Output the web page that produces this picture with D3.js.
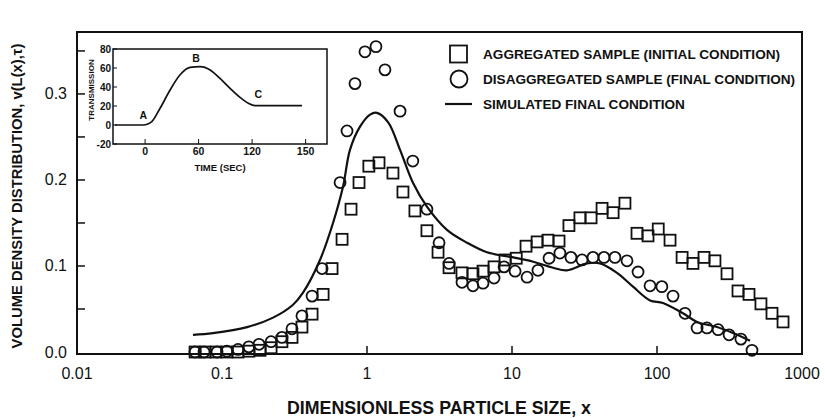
<!DOCTYPE html>
<html>
<head>
<meta charset="utf-8">
<script src="https://cdn.jsdelivr.net/npm/d3@7"></script>
<style>
body { margin: 0; background: #fff; }
text { font-family: "Liberation Sans", Arial, sans-serif; fill: #111; }
</style>
</head>
<body>
<svg id="chart" width="825" height="418"></svg>
<script>
// aggregated sample (initial condition) - squares
var aggX = [0.0652,0.0763,0.0909,0.108,0.129,0.153,0.183,0.218,0.259,0.304,0.356,0.418,0.498,0.574,0.673,0.776,0.881,1.03,1.21,1.51,1.77,2.14,2.59,3.09,3.68,4.52,5.38,6.31,7.52,8.95,10.7,12.5,14.9,17.7,21.1,24.7,29.4,35.1,41.8,49.8,60.1,72.8,86.7,102,123,149,177,211,251,304,362,431,521,621,740];
var aggY = [0,0,0,0,0,0.001,0.002,0.005,0.012,0.017,0.029,0.044,0.067,0.097,0.131,0.166,0.197,0.216,0.220,0.208,0.186,0.164,0.141,0.116,0.098,0.092,0.091,0.094,0.099,0.107,0.109,0.123,0.128,0.130,0.129,0.147,0.156,0.156,0.167,0.162,0.173,0.138,0.135,0.143,0.130,0.110,0.103,0.110,0.106,0.091,0.071,0.067,0.056,0.045,0.035];

// disaggregated sample (final condition) - circles
var disX = [0.0652,0.0752,0.0924,0.108,0.129,0.153,0.180,0.218,0.259,0.304,0.356,0.418,0.490,0.652,0.728,0.826,0.968,1.153,1.33,1.69,2.07,2.59,3.14,3.68,4.52,5.38,6.31,7.52,8.81,10.5,12.7,15.1,18.0,21.4,25.5,30.4,36.2,43.1,51.3,62.1,74.0,89.5,108,129,156,189,221,264,314,379,452];
var disY = [0,0,0,0.001,0.003,0.006,0.009,0.012,0.017,0.027,0.042,0.065,0.097,0.197,0.257,0.312,0.349,0.355,0.328,0.280,0.222,0.166,0.127,0.103,0.081,0.077,0.080,0.086,0.099,0.094,0.087,0.095,0.109,0.115,0.110,0.107,0.110,0.110,0.110,0.106,0.093,0.077,0.076,0.065,0.045,0.028,0.028,0.026,0.020,0.015,0.002];

// simulated final condition - line
var simX = [0.0631,0.0866,0.149,0.225,0.309,0.362,0.474,0.583,0.683,0.763,0.895,1.05,1.17,1.40,1.69,2.07,2.59,3.56,4.90,6.72,10.2,14.0,19.2,23.9,32.9,40.4,53.0,68.3,89.5,110,151,189,259,334,438];
var simY = [0.020,0.022,0.029,0.040,0.055,0.069,0.107,0.150,0.192,0.235,0.262,0.276,0.278,0.267,0.235,0.197,0.169,0.142,0.127,0.116,0.110,0.105,0.098,0.095,0.103,0.103,0.092,0.076,0.060,0.057,0.045,0.035,0.029,0.022,0.013];

var xTicks = [0.01, 0.1, 1, 10, 100, 1000];
var xTickLabels = ["0.01", "0.1", "1", "10", "100", "1000"];
var yTicks = [0, 0.1, 0.2, 0.3];
var yTickLabels = ["0.0", "0.1", "0.2", "0.3"];
var yMinorTicks = [0.05, 0.15, 0.25, 0.35];

var legendLabels = ["AGGREGATED SAMPLE (INITIAL CONDITION)", "DISAGGREGATED SAMPLE (FINAL CONDITION)", "SIMULATED FINAL CONDITION"];

// inset: transmission vs time
var insetTime = [-34, -2, 3, 7.5, 16.8, 28, 39, 50.4, 61.7, 72.9, 84, 95.3, 106.5, 115.8, 123.3, 176];
var insetTrans = [0, 0, 1, 3.5, 17.6, 36.8, 52.6, 60.7, 61.4, 57.9, 49, 38.6, 29, 22.8, 20.3, 20.3];
var insetXTicks = [0, 60, 120, 180];
var insetXLabels = ["0", "60", "120", "150"];
var insetYTicks = [-20, 0, 20, 40, 60, 80];
var insetMarks = ["A", "B", "C"];
var insetMarkTime = [-2, 57, 127];
var insetMarkTrans = [6, 66, 28];

var svg = d3.select("#chart");

var x = d3.scaleLog().domain([0.01, 1000]).range([77, 802]);
var y = d3.scaleLinear().domain([-0.0023, 0.372]).range([354, 32]);

// frame
svg.append("rect")
    .attr("x", 77).attr("y", 32)
    .attr("width", 725).attr("height", 322)
    .attr("fill", "none")
    .attr("stroke", "#111")
    .attr("stroke-width", 2);

// x ticks (inward)
svg.selectAll(".xtick")
    .data(xTicks.slice(1, -1))
    .enter()
    .append("line")
    .attr("x1", function (d) { return x(d); })
    .attr("x2", function (d) { return x(d); })
    .attr("y1", 354).attr("y2", 346)
    .attr("stroke", "#111").attr("stroke-width", 1.5);

svg.selectAll(".xlab")
    .data(xTicks)
    .enter()
    .append("text")
    .attr("x", function (d) { return x(d); })
    .attr("y", 379)
    .attr("text-anchor", "middle")
    .style("font-size", "16px")
    .text(function (d, i) { return xTickLabels[i]; });

// y ticks (inward)
svg.selectAll(".ytick")
    .data(yTicks.slice(1).concat(yMinorTicks))
    .enter()
    .append("line")
    .attr("x1", 77).attr("x2", 85)
    .attr("y1", function (d) { return y(d); })
    .attr("y2", function (d) { return y(d); })
    .attr("stroke", "#111").attr("stroke-width", 1.5);

svg.selectAll(".ylab")
    .data(yTicks)
    .enter()
    .append("text")
    .attr("x", 67)
    .attr("y", function (d) { return y(d) + 5.5; })
    .attr("text-anchor", "end")
    .style("font-size", "16px")
    .text(function (d, i) { return yTickLabels[i]; });

// axis titles
svg.append("text")
    .attr("x", 439).attr("y", 414)
    .attr("text-anchor", "middle")
    .style("font-size", "17.8px").style("font-weight", "bold")
    .text("DIMENSIONLESS PARTICLE SIZE, x");

svg.append("text")
    .attr("transform", "translate(22,196) rotate(-90)")
    .attr("text-anchor", "middle")
    .style("font-size", "14.8px").style("font-weight", "bold")
    .text("VOLUME DENSITY DISTRIBUTION, v(L(x),\u03C4)");

// simulated line
var line = d3.line()
    .x(function (d, i) { return x(simX[i]); })
    .y(function (d, i) { return y(simY[i]); })
    .curve(d3.curveCatmullRom.alpha(0.5));

svg.append("path")
    .datum(simX)
    .attr("d", line)
    .attr("fill", "none")
    .attr("stroke", "#111")
    .attr("stroke-width", 2.2);

// squares
var sq = 11;
svg.selectAll(".agg")
    .data(aggX)
    .enter()
    .append("rect")
    .attr("x", function (d) { return x(d) - sq / 2; })
    .attr("y", function (d, i) { return y(aggY[i]) - sq / 2; })
    .attr("width", sq).attr("height", sq)
    .attr("fill", "none")
    .attr("stroke", "#111")
    .attr("stroke-width", 1.8);

// circles
svg.selectAll(".dis")
    .data(disX)
    .enter()
    .append("circle")
    .attr("cx", function (d) { return x(d); })
    .attr("cy", function (d, i) { return y(disY[i]); })
    .attr("r", 5.5)
    .attr("fill", "none")
    .attr("stroke", "#111")
    .attr("stroke-width", 1.8);

// legend
var legY = [54, 79, 104];
svg.append("rect")
    .attr("x", 450).attr("y", legY[0] - 8.5)
    .attr("width", 17).attr("height", 17)
    .attr("fill", "none").attr("stroke", "#111").attr("stroke-width", 1.8);
svg.append("circle")
    .attr("cx", 459).attr("cy", legY[1])
    .attr("r", 8.5)
    .attr("fill", "none").attr("stroke", "#111").attr("stroke-width", 1.8);
svg.append("line")
    .attr("x1", 445).attr("x2", 472)
    .attr("y1", legY[2]).attr("y2", legY[2])
    .attr("stroke", "#111").attr("stroke-width", 2.2);

svg.selectAll(".leg")
    .data(legendLabels)
    .enter()
    .append("text")
    .attr("x", 483)
    .attr("y", function (d, i) { return legY[i] + 5; })
    .style("font-size", "13.6px").style("font-weight", "bold")
    .text(function (d) { return d; });

// inset
var ix = d3.scaleLinear().domain([-36, 204]).range([113, 327]);
var iy = d3.scaleLinear().domain([-20, 80]).range([144, 49]);

svg.append("rect")
    .attr("x", 113).attr("y", 49)
    .attr("width", 214).attr("height", 95)
    .attr("fill", "#fff")
    .attr("stroke", "#111")
    .attr("stroke-width", 1.5);

svg.selectAll(".ixtick")
    .data(insetXTicks)
    .enter()
    .append("line")
    .attr("x1", function (d) { return ix(d); })
    .attr("x2", function (d) { return ix(d); })
    .attr("y1", 144).attr("y2", 139)
    .attr("stroke", "#111").attr("stroke-width", 1);

svg.selectAll(".iytick")
    .data(insetYTicks)
    .enter()
    .append("line")
    .attr("x1", 113).attr("x2", 117)
    .attr("y1", function (d) { return iy(d); })
    .attr("y2", function (d) { return iy(d); })
    .attr("stroke", "#111").attr("stroke-width", 1);

svg.selectAll(".ixlab")
    .data(insetXTicks)
    .enter()
    .append("text")
    .attr("x", function (d) { return ix(d); })
    .attr("y", 155)
    .attr("text-anchor", "middle")
    .style("font-size", "10.5px").style("font-weight", "bold")
    .text(function (d, i) { return insetXLabels[i]; });

svg.selectAll(".iylab")
    .data(insetYTicks)
    .enter()
    .append("text")
    .attr("x", 111)
    .attr("y", function (d) { return iy(d) + 3.5; })
    .attr("text-anchor", "end")
    .style("font-size", "10px").style("font-weight", "bold")
    .text(function (d) { return d; });

svg.append("text")
    .attr("x", 220).attr("y", 171)
    .attr("text-anchor", "middle")
    .style("font-size", "9.5px").style("font-weight", "bold")
    .text("TIME (SEC)");

svg.append("text")
    .attr("transform", "translate(94,90) rotate(-90)")
    .attr("text-anchor", "middle")
    .style("font-size", "8px").style("font-weight", "bold")
    .text("TRANSMISSION");

var iline = d3.line()
    .x(function (d, i) { return ix(insetTime[i]); })
    .y(function (d, i) { return iy(insetTrans[i]); })
    .curve(d3.curveMonotoneX);

svg.append("path")
    .datum(insetTime)
    .attr("d", iline)
    .attr("fill", "none")
    .attr("stroke", "#111")
    .attr("stroke-width", 1.7);

svg.selectAll(".imark")
    .data(insetMarks)
    .enter()
    .append("text")
    .attr("x", function (d, i) { return ix(insetMarkTime[i]); })
    .attr("y", function (d, i) { return iy(insetMarkTrans[i]); })
    .attr("text-anchor", "middle")
    .style("font-size", "10.5px").style("font-weight", "bold")
    .text(function (d) { return d; });
</script>
</body>
</html>
